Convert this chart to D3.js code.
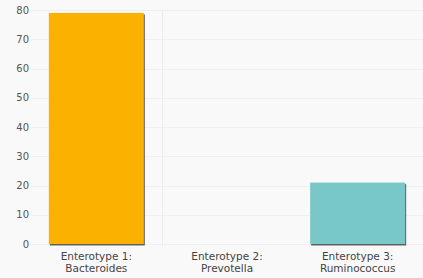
<!DOCTYPE html>
<html>
<head>
<meta charset="utf-8">
<script src="https://cdn.jsdelivr.net/npm/d3@7"></script>
<style>
  body { margin: 0; background: #f9f9f9; }
  text { font-family: "DejaVu Sans", sans-serif; }
</style>
</head>
<body>
<script>
// data
const kategorier = ["Enterotype 1:\nBacteroides", "Enterotype 2:\nPrevotella", "Enterotype 3:\nRuminococcus"];
const vaerdier = [79, 0, 21];
const farver = ["#fbb100", "#79c8c8", "#79c8c8"];
const yTicks = [0, 10, 20, 30, 40, 50, 60, 70, 80];

const width = 423, height = 278;
const margin = { top: 10, right: 0, bottom: 34, left: 31 };

const svg = d3.select("body").append("svg")
  .attr("width", width)
  .attr("height", height);

svg.append("rect").attr("width", width).attr("height", height).attr("fill", "#f9f9f9");

const x = d3.scaleBand()
  .domain(kategorier)
  .range([margin.left, width - margin.right])
  .paddingInner(0.273)
  .paddingOuter(0.1365);

const y = d3.scaleLinear()
  .domain([0, 80])
  .range([height - margin.bottom, margin.top]);

// gridlines
svg.append("g")
  .selectAll("line")
  .data(yTicks)
  .join("line")
  .attr("x1", margin.left)
  .attr("x2", width)
  .attr("y1", d => Math.round(y(d)) + 0.5)
  .attr("y2", d => Math.round(y(d)) + 0.5)
  .attr("stroke", "#efefef");

// lodret linje mellem kategori 1 og 2
const skel = x(kategorier[1]) - x.step() * x.paddingInner() / 2;
svg.append("line")
  .attr("x1", Math.round(skel) + 0.5)
  .attr("x2", Math.round(skel) + 0.5)
  .attr("y1", margin.top)
  .attr("y2", height - margin.bottom + 3)
  .attr("stroke", "#ececec");

// y-akse tal
svg.append("g")
  .selectAll("text")
  .data(yTicks)
  .join("text")
  .attr("x", margin.left - 2)
  .attr("y", d => y(d))
  .attr("dy", "0.35em")
  .attr("text-anchor", "end")
  .attr("font-size", 10)
  .attr("fill", "#555")
  .text(d => d);

// bars med lille mørk skygge
const bars = svg.append("g")
  .selectAll("g")
  .data(kategorier.map((k, i) => ({ k, v: vaerdier[i], c: farver[i] })).filter(d => d.v > 0))
  .join("g");

bars.append("rect")
  .attr("x", d => x(d.k) + 1)
  .attr("y", d => y(d.v) + 1.5)
  .attr("width", x.bandwidth())
  .attr("height", d => y(0) - y(d.v))
  .attr("fill", "#222")
  .attr("opacity", 0.7);

bars.append("rect")
  .attr("x", d => x(d.k))
  .attr("y", d => y(d.v))
  .attr("width", x.bandwidth())
  .attr("height", d => y(0) - y(d.v))
  .attr("fill", d => d.c);

// kategori-labels
const lab = svg.append("g")
  .selectAll("text")
  .data(kategorier)
  .join("text")
  .attr("x", d => x(d) + x.bandwidth() / 2)
  .attr("y", height - margin.bottom + 16)
  .attr("text-anchor", "middle")
  .attr("font-size", 10.5)
  .attr("fill", "#444");

lab.selectAll("tspan")
  .data(d => d.split("\n"))
  .join("tspan")
  .attr("x", function () { return d3.select(this.parentNode).attr("x"); })
  .attr("dy", (d, i) => i === 0 ? 0 : 12)
  .text(d => d);
</script>
</body>
</html>
